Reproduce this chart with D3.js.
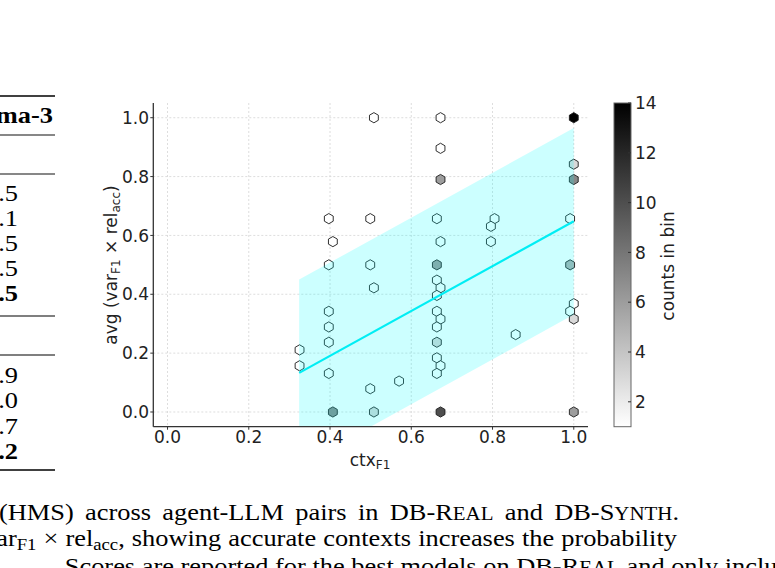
<!DOCTYPE html>
<html>
<head>
<meta charset="utf-8">
<script src="https://cdn.jsdelivr.net/npm/d3@7/dist/d3.min.js"></script>
<style>
  html, body { margin: 0; padding: 0; background: #fff; }
  svg { display: block; }
</style>
</head>
<body>
<svg id="fig" width="775" height="568"></svg>
<script>
// ---------------- data ----------------
const xTicks = [0.0, 0.2, 0.4, 0.6, 0.8, 1.0];
const yTicks = [0.0, 0.2, 0.4, 0.6, 0.8, 1.0];
const cbTicks = [2, 4, 6, 8, 10, 12, 14];
const countRange = [1, 14];

// hexbin centres (ctx_F1, avg) and counts per bin
const hexX = [0.325,0.325,0.397,0.407,0.397,0.397,0.397,0.397,0.397,0.407,
              0.508,0.499,0.499,0.508,0.499,0.508,0.570,
              0.672,0.672,0.672,0.663,0.672,0.663,0.663,0.672,0.663,0.663,0.672,0.663,0.663,0.663,0.672,0.663,0.672,
              0.805,0.796,0.796,0.857,
              1.000,1.000,1.000,0.991,0.991,1.000,0.991,1.000,1.000];
const hexY = [0.211,0.157,0.657,0.579,0.500,0.342,0.289,0.237,0.131,0.000,
              1.000,0.657,0.500,0.422,0.079,0.000,0.105,
              1.000,0.896,0.790,0.657,0.579,0.500,0.448,0.422,0.396,0.342,0.316,0.289,0.237,0.184,0.157,0.131,0.000,
              0.657,0.631,0.579,0.263,
              1.000,0.842,0.790,0.657,0.500,0.368,0.342,0.316,0.000];
const hexCount = [1,1,1,1,1,1,1,1,1,7,
                  1,1,1,1,1,3,1,
                  1,1,6,1,1,6,1,1,1,1,1,1,3,1,1,1,10,
                  1,1,1,1,
                  14,3,7,1,5,1,1,3,6];

// fitted trend line and its band
const fitX = [0.324, 1.0];
const fitY = [0.133, 0.648];
const bandHalf = 0.317;

// table fragment at the left (cut by the crop)
const tableHeader = "Llama-3";
const tableGroup1 = ["32.5", "27.1", "35.5", "30.5", "41.5"];
const tableGroup2 = ["10.9", "14.0", "12.7", "18.2"];

// ---------------- drawing ----------------
const svg = d3.select("#fig");
const sans = "DejaVu Sans, sans-serif";
const serif = "Liberation Serif, Times New Roman, serif";
const ink = "#222";

const P = { left: 153.3, right: 588, top: 103, bottom: 426.7 };
const x = d3.scaleLinear().domain([-0.035, 1.035]).range([P.left, P.right]);
const y = d3.scaleLinear().domain([-0.05, 1.05]).range([P.bottom, P.top]);
const gray = d3.scaleLinear().domain(countRange).range(["#ffffff", "#000000"]).interpolate(d3.interpolateRgb);

svg.append("defs").append("clipPath").attr("id", "plotclip")
  .append("rect").attr("x", P.left).attr("y", P.top)
  .attr("width", P.right - P.left).attr("height", P.bottom - P.top);

// grid
const grid = svg.append("g").attr("stroke", "#d4d4d4").attr("stroke-width", 0.8)
  .attr("stroke-dasharray", "2,2");
grid.selectAll(".gx").data(xTicks).join("line")
  .attr("x1", d => x(d)).attr("x2", d => x(d)).attr("y1", P.top).attr("y2", P.bottom);
grid.selectAll(".gy").data(yTicks).join("line")
  .attr("y1", d => y(d)).attr("y2", d => y(d)).attr("x1", P.left).attr("x2", P.right);

// hexagons
const hexR = 5.1;
const hexPath = "M" + d3.range(6).map(i => {
  const a = Math.PI / 180 * (60 * i - 90);
  return [hexR * Math.cos(a), hexR * Math.sin(a)].map(v => v.toFixed(2)).join(",");
}).join("L") + "Z";
const hexData = hexX.map((v, i) => ({ x: v, y: hexY[i], c: hexCount[i] }));
svg.append("g").selectAll("path").data(hexData).join("path")
  .attr("d", hexPath)
  .attr("transform", d => `translate(${x(d.x)},${y(d.y)})`)
  .attr("fill", d => gray(d.c))
  .attr("stroke", "#1a1a1a").attr("stroke-width", 0.9);

// band + line
const bandPts = [
  [fitX[0], fitY[0] + bandHalf], [fitX[1], fitY[1] + bandHalf],
  [fitX[1], fitY[1] - bandHalf], [fitX[0], fitY[0] - bandHalf]
];
svg.append("path").attr("clip-path", "url(#plotclip)")
  .attr("d", "M" + bandPts.map(p => [x(p[0]), y(p[1])].join(",")).join("L") + "Z")
  .attr("fill", "#00ffff").attr("fill-opacity", 0.2);
svg.append("path").attr("clip-path", "url(#plotclip)")
  .attr("d", d3.line().x(d => x(d[0])).y(d => y(d[1]))(fitX.map((v, i) => [v, fitY[i]])))
  .attr("stroke", "#00eef4").attr("stroke-width", 2.2).attr("fill", "none");

// axes spines
const axg = svg.append("g").attr("stroke", "#333").attr("stroke-width", 1.3);
axg.append("line").attr("x1", P.left).attr("x2", P.left).attr("y1", P.top).attr("y2", P.bottom);
axg.append("line").attr("x1", P.left).attr("x2", P.right).attr("y1", P.bottom).attr("y2", P.bottom);
axg.selectAll(".tx").data(xTicks).join("line")
  .attr("x1", d => x(d)).attr("x2", d => x(d)).attr("y1", P.bottom).attr("y2", P.bottom + 3).attr("stroke-width", 1);
axg.selectAll(".ty").data(yTicks).join("line")
  .attr("y1", d => y(d)).attr("y2", d => y(d)).attr("x1", P.left).attr("x2", P.left - 3).attr("stroke-width", 1);

// tick labels
svg.append("g").selectAll("text").data(xTicks).join("text")
  .attr("x", d => x(d)).attr("y", 443).attr("text-anchor", "middle")
  .attr("font-family", sans).attr("font-size", 17).attr("fill", ink)
  .text(d => d.toFixed(1));
svg.append("g").selectAll("text").data(yTicks).join("text")
  .attr("x", 149).attr("y", d => y(d)).attr("dy", "0.36em").attr("text-anchor", "end")
  .attr("font-family", sans).attr("font-size", 17).attr("fill", ink)
  .text(d => d.toFixed(1));

// axis labels
const xl = svg.append("text").attr("x", 370).attr("y", 466).attr("text-anchor", "middle")
  .attr("font-family", sans).attr("font-size", 17).attr("fill", ink);
xl.append("tspan").text("ctx");
xl.append("tspan").attr("font-size", 12).attr("dy", 3).text("F1");

const yl = svg.append("text").attr("transform", "translate(117,265) rotate(-90)")
  .attr("text-anchor", "middle").attr("font-family", sans).attr("font-size", 17).attr("fill", ink);
yl.append("tspan").text("avg (var");
yl.append("tspan").attr("font-size", 12).attr("dy", 3).text("F1");
yl.append("tspan").attr("dy", -3).text(" × rel");
yl.append("tspan").attr("font-size", 12).attr("dy", 3).text("acc");
yl.append("tspan").attr("dy", -3).text(")");

// colorbar
const CB = { x: 614, w: 17 };
const cy = d3.scaleLinear().domain(countRange).range([P.bottom, P.top]);
const grad = svg.select("defs").append("linearGradient").attr("id", "cbgrad")
  .attr("x1", 0).attr("y1", 1).attr("x2", 0).attr("y2", 0);
grad.append("stop").attr("offset", 0).attr("stop-color", gray(countRange[0]));
grad.append("stop").attr("offset", 1).attr("stop-color", gray(countRange[1]));
svg.append("rect").attr("x", CB.x).attr("y", cy(countRange[1])).attr("width", CB.w)
  .attr("height", cy(countRange[0]) - cy(countRange[1]))
  .attr("fill", "url(#cbgrad)").attr("stroke", "#666").attr("stroke-width", 1);
svg.append("g").selectAll("line").data(cbTicks).join("line")
  .attr("x1", CB.x + CB.w - 3).attr("x2", CB.x + CB.w).attr("y1", d => cy(d)).attr("y2", d => cy(d))
  .attr("stroke", "#333").attr("stroke-width", 1);
svg.append("g").selectAll("text").data(cbTicks).join("text")
  .attr("x", 635).attr("y", d => cy(d)).attr("dy", "0.36em")
  .attr("font-family", sans).attr("font-size", 17).attr("fill", ink).text(d => d);
svg.append("text").attr("transform", "translate(674,266) rotate(-90)")
  .attr("text-anchor", "middle").attr("font-family", sans).attr("font-size", 17).attr("fill", ink)
  .text("counts in bin");

// ------- table fragment (left), page text is slightly wide -------
const SX = 1.1;
const tg = svg.append("g").attr("transform", `scale(${SX},1)`)
  .attr("font-family", serif).attr("font-size", 24).attr("fill", "#000");
const rules = [[96, 1.6], [135, 0.9], [174, 0.9], [316, 1.1], [355, 1.1], [470, 1.6]];
tg.selectAll("line").data(rules).join("line")
  .attr("x1", 0).attr("x2", 55 / SX).attr("y1", d => d[0]).attr("y2", d => d[0])
  .attr("stroke", "#000").attr("stroke-width", d => d[1]);
tg.append("text").attr("x", 53 / SX).attr("y", 123).attr("text-anchor", "end")
  .attr("font-weight", "bold").text(tableHeader);
tg.selectAll(".g1").data(tableGroup1).join("text").attr("class", "g1")
  .attr("x", 18 / SX).attr("y", (d, i) => 201 + i * 25).attr("text-anchor", "end")
  .attr("font-weight", (d, i) => i === tableGroup1.length - 1 ? "bold" : "normal").text(d => d);
tg.selectAll(".g2").data(tableGroup2).join("text").attr("class", "g2")
  .attr("x", 18 / SX).attr("y", (d, i) => 383 + i * 25.5).attr("text-anchor", "end")
  .attr("font-weight", (d, i) => i === tableGroup2.length - 1 ? "bold" : "normal").text(d => d);

// ------- caption fragment (bottom) -------
const cap = svg.append("g").attr("transform", `scale(${SX},1)`)
  .attr("font-family", serif).attr("font-size", 24).attr("fill", "#000");
const l1 = cap.append("text").attr("x", 679 / SX).attr("y", 520).attr("text-anchor", "end")
  .attr("word-spacing", 4.3);
l1.append("tspan").text("(HMS) across agent-LLM pairs in DB-R");
l1.append("tspan").attr("font-size", 19).text("EAL");
l1.append("tspan").text(" and DB-S");
l1.append("tspan").attr("font-size", 19).text("YNTH");
l1.append("tspan").text(".");
const l2 = cap.append("text").attr("x", 677 / SX).attr("y", 546).attr("text-anchor", "end")
  .attr("word-spacing", 0.4);
l2.append("tspan").text("var");
l2.append("tspan").attr("font-size", 17).attr("dy", 4).text("F1");
l2.append("tspan").attr("dy", -4).text(" × rel");
l2.append("tspan").attr("font-size", 17).attr("dy", 4).text("acc");
l2.append("tspan").attr("dy", -4).text(", showing accurate contexts increases the probability");
const l3 = cap.append("text").attr("x", 45 / SX).attr("y", 574);
l3.append("tspan").text("– Scores are reported for the best models on DB-R");
l3.append("tspan").attr("font-size", 19).text("EAL");
l3.append("tspan").text(" and only include");
</script>
</body>
</html>
